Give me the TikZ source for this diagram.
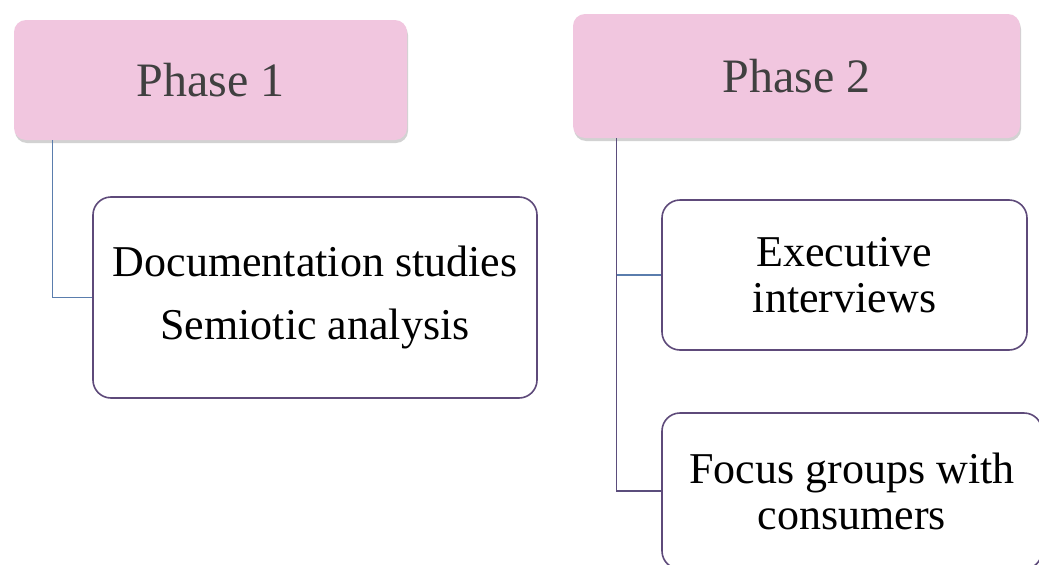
\documentclass[tikz,border=0pt]{standalone}
\usepackage{fontspec}
\setmainfont{Liberation Serif}
\usetikzlibrary{shadows}
\definecolor{phasepink}{HTML}{F1C6DF}
\definecolor{phasetext}{HTML}{404040}
\definecolor{boxborder}{HTML}{5E4A7A}
\definecolor{linkblue}{HTML}{5A7DAD}
\definecolor{linkpurple}{HTML}{5B4D7C}
\tikzset{
  phasebox/.style={rectangle, rounded corners=12pt, fill=phasepink, draw=none,
    text=phasetext, font=\fontsize{48}{54}\selectfont, inner sep=0pt,
    drop shadow={opacity=0.35, shadow xshift=1pt, shadow yshift=-3pt}},
  itembox/.style={rectangle, rounded corners=18pt, fill=white, draw=boxborder,
    line width=1.6pt, text=black, align=center,
    font=\fontsize{44}{46}\selectfont, inner sep=0pt},
  bluelink/.style={draw=linkblue, line width=1.3pt},
  purplelink/.style={draw=linkpurple, line width=1.3pt}
}
\begin{document}
\begin{tikzpicture}[x=1pt,y=-1pt]
\clip (0,0) rectangle (1039,565);
\fill[white] (0,0) rectangle (1039,565);
\node[phasebox, minimum width=393pt, minimum height=120pt] (p1) at (210.5,80) {Phase 1};
\node[phasebox, minimum width=447pt, minimum height=124pt] (p2) at (796.5,76) {Phase 2};
\node[itembox, minimum width=444pt, minimum height=201pt] (doc) at (315,297.5)
  {Documentation studies\\[17pt]Semiotic analysis};
\node[itembox, minimum width=365pt, minimum height=150pt] (exec) at (844.5,275)
  {Executive\\interviews};
\node[itembox, minimum width=380pt, minimum height=156pt] (focus) at (852,491)
  {Focus groups with\\consumers};
\draw[bluelink] ([xshift=39pt]p1.south west) |- (doc.west);
\draw[bluelink] ([xshift=44pt]p2.south west) |- (exec.west);
\draw[purplelink] ([xshift=44pt]p2.south west) |- (focus.west);
\end{tikzpicture}
\end{document}
